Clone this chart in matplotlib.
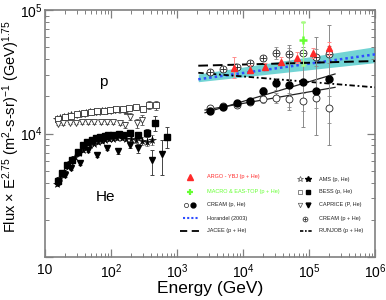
import numpy as np
import matplotlib
matplotlib.use("Agg")
import matplotlib.pyplot as plt
from matplotlib.ticker import LogLocator, FuncFormatter, NullFormatter

# ==========================================================
# Direct measurements, low energy (GeV, flux x E^2.75)
# ==========================================================

ams_p_E = [15, 17, 19.5, 22, 25, 28.5, 32.5, 37, 42, 48, 55, 63, 72, 82, 94, 108, 125, 145, 170]
ams_p_F = [13200, 13400, 13600, 13800, 14000, 14200, 14300, 14500, 14600, 14800, 14900,
           15000, 15100, 15200, 15300, 15400, 15400, 15500, 15300]
ams_p_err = [300, 300, 300, 300, 300, 300, 300, 300, 350, 350, 350, 400, 400, 450, 500,
             550, 600, 700, 800]

bess_p_E = [16, 20, 25, 31, 39, 49, 61, 77, 96, 120, 150, 190, 240, 300, 380, 480]
bess_p_F = [13000, 13500, 13900, 14300, 14600, 14900, 15100, 15300, 15500, 15700, 15800,
            16000, 16300, 15800, 17000, 17000]
bess_p_err = [300, 300, 300, 300, 350, 350, 350, 400, 400, 450, 500, 600, 700, 900, 1300, 1400]

caprice_p_E = [15.5, 19, 23.5, 29, 36, 45, 56, 70, 87, 108, 135, 163, 194, 245, 292]
caprice_p_F = [12000, 12100, 12200, 12200, 12300, 12300, 12300, 12300, 12400, 12400,
               12200, 11700, 13700, 12100, 12900]
caprice_p_err = [300, 300, 300, 300, 300, 300, 350, 350, 400, 450, 500, 700, 900, 1000, 1200]

ams_he_E = [15, 17, 19.5, 22, 25, 28.5, 32.5, 37, 42, 48, 55, 63, 72, 82, 94, 108, 125,
            145, 170, 200, 240, 290, 350, 420]
ams_he_F = [3900, 4400, 4900, 5400, 5900, 6400, 6900, 7300, 7700, 8000, 8300, 8500, 8700,
            8900, 9000, 9100, 9200, 9200, 9100, 9000, 8900, 8700, 8600, 8900]
ams_he_err = [120, 130, 150, 160, 170, 180, 200, 210, 220, 230, 240, 250, 260, 280, 300,
              320, 350, 380, 420, 460, 520, 600, 700, 800]

bess_he_E = [15.6, 18, 21.3, 25.4, 31.6, 37.6, 44, 51, 60, 68, 80, 90, 107, 130, 152, 194,
             257, 346, 464, 708]
bess_he_F = [4100, 4800, 5550, 6150, 7100, 8000, 8500, 8850, 9200, 9400, 9600, 9700, 9700,
             9900, 9700, 10100, 9700, 10100, 12200, 9400]
bess_he_err = [100, 120, 140, 150, 180, 200, 220, 230, 250, 260, 280, 300, 320, 350, 400,
               450, 550, 700, 1700, 1800]

caprice_he_E = [16, 20, 25, 33.9, 44.9, 60.6, 86, 127, 194, 260, 414, 587]
caprice_he_F = [4000, 4600, 5300, 5770, 7350, 6700, 7640, 7250, 8070, 7600, 6100, 6820]
caprice_he_lo = [150, 170, 200, 250, 300, 300, 350, 400, 500, 600, 1450, 2170]
caprice_he_hi = [150, 170, 200, 250, 300, 300, 350, 400, 500, 600, 1250, 2040]

# ==========================================================
# High energy measurements
# ==========================================================

cream_E = [3160, 5010, 8030, 12770, 20100, 31600, 50100, 80400, 127700, 203000]
cream_p_F = [16000, 16700, 17030, 18080, 18900, 19480, 18900, 18330, 19480, 16190]
cream_p_err = [500, 600, 700, 900, 1200, 1800, 2500, 3000, 3500, 4000]
cream_he_F = [15200, 16480, 17570, 18450, 22090, 25480, 24700, 26260, 22230, 27600]
cream_he_lo = [600, 700, 900, 1100, 1800, 2800, 9200, 14900, 12500, 19500]
cream_he_hi = [600, 700, 900, 1100, 1800, 2800, 27400, 54100, 38600, 48000]
cream_all_F = [31650, 33260, 34740, 36990, 40620, 45100, 43800, 44600, 41860, 44020]
cream_all_err = [900, 1000, 1200, 1500, 2000, 5000, 5500, 6000, 6500, 7000]

argo_E = [7380, 12770, 21540, 37200, 65200, 113800, 203000]
argo_F = [33740, 32680, 34740, 38100, 40620, 44600, 48970]
argo_lo = [5700, 1900, 2000, 2500, 3500, 4000, 5500]
argo_hi = [8100, 3200, 2500, 3500, 5000, 5000, 6000]

macro_E = [80400]
macro_F = [57200]
macro_lo = [21400]
macro_hi = [23200]

# fits and models
fit_E = [2655, 247900]
fit_p_F = [15490, 23650]
fit_he_F = [14730, 30350]

jacee_E = [2100, 1e6]
jacee_F = [35410, 38630]

horandel_E = [2100, 1e6]
horandel_F = [27480, 43740]
horandel_lo = [26260, 37500]
horandel_hi = [30350, 50500]

runjob_E = [2100, 185400, 1e6]
runjob_F = [31030, 25480, 23650]

# ==========================================================
# Style
# ==========================================================

plt.rcParams['font.family'] = ['Liberation Sans', 'DejaVu Sans']
plt.rcParams['mathtext.fontset'] = 'custom'
plt.rcParams['mathtext.rm'] = 'Liberation Sans'
plt.rcParams['mathtext.it'] = 'Liberation Sans:italic'
plt.rcParams['mathtext.bf'] = 'Liberation Sans:bold'

spine_c = '#808080'
red = '#ff2a2a'
pink = '#ff8c8c'
green = '#66ff33'
cyan = '#72d4d4'
blue = '#2f4dff'
grey = '#8a8a8a'

fig = plt.figure(figsize=(3.86, 3.0), dpi=100)
ax = fig.add_axes([0.1166, 0.1433, 0.855, 0.8233])
ax.set_xscale('log')
ax.set_yscale('log')

eb = dict(elinewidth=0.7, capsize=1.2, capthick=0.7, linestyle='none')

# low energy proton (open) and helium (filled)
ax.errorbar(ams_p_E, ams_p_F, yerr=ams_p_err, fmt='*', ms=5.5, mfc='white', mec='#333',
            mew=0.6, ecolor='#555', **eb)
ax.errorbar(bess_p_E, bess_p_F, yerr=bess_p_err, fmt='s', ms=4.2, mfc='white', mec='#333',
            mew=0.6, ecolor='#555', **eb)
ax.errorbar(caprice_p_E, caprice_p_F, yerr=caprice_p_err, fmt='v', ms=4.8, mfc='white',
            mec='#333', mew=0.6, ecolor='#555', **eb)

ax.errorbar(ams_he_E, ams_he_F, yerr=ams_he_err, fmt='*', ms=5.5, mfc='black', mec='black',
            mew=0.4, ecolor='#444', **eb)
ax.errorbar(bess_he_E, bess_he_F, yerr=bess_he_err, fmt='s', ms=4.5, mfc='black',
            mec='black', ecolor='#444', **eb)
ax.errorbar(caprice_he_E, caprice_he_F, yerr=[caprice_he_lo, caprice_he_hi], fmt='v', ms=4.8,
            mfc='black', mec='black', ecolor='#444', **eb)

# Horandel band and line
ax.fill_between(horandel_E, horandel_lo, horandel_hi, color=cyan, lw=0, zorder=1)
ax.plot(horandel_E, horandel_F, color=blue, ls=(0, (1, 1.2)), lw=1.8, zorder=3)
ax.plot(jacee_E, jacee_F, color='black', ls=(0, (5, 2.5)), lw=1.4, zorder=3)
ax.plot(runjob_E, runjob_F, color='black', ls=(0, (3, 1.5, 1, 1.5)), lw=1.3, zorder=3)

# CREAM fits
ax.plot(fit_E, fit_p_F, color='#222', lw=0.9, zorder=3)
ax.plot(fit_E, fit_he_F, color='#222', lw=0.9, zorder=3)

# CREAM p, He
ax.errorbar(cream_E, cream_p_F, yerr=cream_p_err, fmt='o', ms=5, mfc='white', mec='#222',
            mew=0.6, ecolor=grey, zorder=4, **eb)
ax.errorbar(cream_E, cream_he_F, yerr=[cream_he_lo, cream_he_hi], fmt='o', ms=5,
            mfc='black', mec='black', ecolor=grey, zorder=4, **eb)

# CREAM p + He
ax.errorbar(cream_E, cream_all_F, yerr=cream_all_err, fmt='o', ms=5, mfc='white',
            mec='#222', mew=0.6, ecolor=grey, zorder=5, **eb)
ax.plot(cream_E, cream_all_F, '+', ms=5, mew=0.6, color='#222', zorder=6)

# ARGO-YBJ and MACRO
ax.errorbar(argo_E, argo_F, yerr=[argo_lo, argo_hi], fmt='^', ms=4.5, mfc=red, mec=red,
            ecolor=pink, zorder=6, **eb)
ax.errorbar(macro_E, macro_F, yerr=[macro_lo, macro_hi], fmt='+', ms=6, mew=1.8,
            color=green, ecolor='#a6ff80', zorder=6, **eb)

# ==========================================================
# Axes
# ==========================================================

ax.set_xlim(10, 1e6)
ax.set_ylim(1000, 1e5)

def xfmt(v, pos):
    n = int(round(np.log10(v)))
    return '10' if n == 1 else r'$10^{%d}$' % n

def yfmt(v, pos):
    n = int(round(np.log10(v)))
    return '' if n < 4 else r'$10^{%d}$' % n

ax.xaxis.set_major_locator(LogLocator(base=10, numticks=10))
ax.xaxis.set_minor_locator(LogLocator(base=10, subs=np.arange(2, 10), numticks=20))
ax.xaxis.set_major_formatter(FuncFormatter(xfmt))
ax.xaxis.set_minor_formatter(NullFormatter())
ax.yaxis.set_major_locator(LogLocator(base=10, numticks=10))
ax.yaxis.set_minor_locator(LogLocator(base=10, subs=np.arange(2, 10), numticks=20))
ax.yaxis.set_major_formatter(FuncFormatter(yfmt))
ax.yaxis.set_minor_formatter(NullFormatter())

ax.tick_params(which='both', direction='in', top=True, right=True, color=spine_c,
               labelsize=10, pad=4)
ax.tick_params(axis='y', which='major', pad=1.5)
ax.tick_params(which='major', length=6, width=0.9)
ax.tick_params(which='minor', length=3, width=0.7)
for s in ax.spines.values():
    s.set_color(spine_c)
    s.set_linewidth(1.2)

ax.set_xlabel('Energy (GeV)', fontsize=12.5, labelpad=0)
fig.text(11 / 386, 1 - 127 / 300,
         r'Flux $\times$ E$^{2.75}$ (m$^{2}$-s-sr)$^{-1}$ (GeV)$^{1.75}$',
         rotation=90, ha='center', va='center', fontsize=10.5)

ax.text(0.176, 0.709, 'p', transform=ax.transAxes, fontsize=11, ha='center', va='center')
ax.text(0.182, 0.244, 'He', transform=ax.transAxes, fontsize=11, ha='center', va='center')

# ==========================================================
# Legend (hand placed, two columns)
# ==========================================================

tr = ax.transAxes
fs = 4.0
rows_l = [0.325, 0.264, 0.211, 0.157, 0.106]
rows_r = [0.315, 0.264, 0.211, 0.154, 0.106]
tx_l = 0.491
tx_r = 0.830

ax.plot([0.439], [rows_l[0]], '^', ms=4, color=red, transform=tr, clip_on=False)
ax.text(tx_l, rows_l[0], 'ARGO - YBJ (p + He)', color=red, fontsize=fs, va='center', transform=tr)
ax.plot([0.439], [rows_l[1]], '+', ms=4.5, mew=1.6, color=green, transform=tr)
ax.text(tx_l, rows_l[1], 'MACRO & EAS-TOP (p + He)', color=green, fontsize=fs, va='center', transform=tr)
ax.plot([0.427], [rows_l[2]], 'o', ms=3, mfc='white', mec='#222', mew=0.5, transform=tr)
ax.plot([0.448], [rows_l[2]], 'o', ms=3.5, color='black', transform=tr)
ax.text(tx_l, rows_l[2], 'CREAM (p, He)', color='#222', fontsize=fs, va='center', transform=tr)
ax.plot([0.418, 0.467], [rows_l[3]] * 2, color=blue, ls=(0, (1, 1)), lw=1.5, transform=tr)
ax.text(tx_l, rows_l[3], 'Horandel (2003)', color='#222', fontsize=fs, va='center', transform=tr)
ax.plot([0.409, 0.470], [rows_l[4]] * 2, color='black', ls=(0, (4, 2.5)), lw=1.3, transform=tr)
ax.text(tx_l, rows_l[4], 'JACEE (p + He)', color='#222', fontsize=fs, va='center', transform=tr)

ax.plot([0.773], [rows_r[0]], '*', ms=4, mfc='white', mec='#555', mew=0.5, transform=tr)
ax.plot([0.797], [rows_r[0]], '*', ms=4, color='black', transform=tr)
ax.text(tx_r, rows_r[0], 'AMS (p, He)', color='#222', fontsize=fs, va='center', transform=tr)
ax.plot([0.773], [rows_r[1]], 's', ms=2.8, mfc='white', mec='#555', mew=0.5, transform=tr)
ax.plot([0.797], [rows_r[1]], 's', ms=3, color='black', transform=tr)
ax.text(tx_r, rows_r[1], 'BESS (p, He)', color='#222', fontsize=fs, va='center', transform=tr)
ax.plot([0.773], [rows_r[2]], 'v', ms=3.2, mfc='white', mec='#555', mew=0.5, transform=tr)
ax.plot([0.797], [rows_r[2]], 'v', ms=3.5, color='black', transform=tr)
ax.text(tx_r, rows_r[2], 'CAPRICE (P, He)', color='#222', fontsize=fs, va='center', transform=tr)
ax.plot([0.788], [rows_r[3]], 'o', ms=3.5, mfc='white', mec='#222', mew=0.5, transform=tr)
ax.plot([0.788], [rows_r[3]], '+', ms=3.5, mew=0.5, color='#222', transform=tr)
ax.text(tx_r, rows_r[3], 'CREAM (p + He)', color='#222', fontsize=fs, va='center', transform=tr)
ax.plot([0.773, 0.809], [rows_r[4]] * 2, color='black', ls=(0, (2, 1, 1, 1)), lw=1.2, transform=tr)
ax.text(tx_r, rows_r[4], 'RUNJOB (p + He)', color='#222', fontsize=fs, va='center', transform=tr)

fig.savefig('out.png', dpi=100)
